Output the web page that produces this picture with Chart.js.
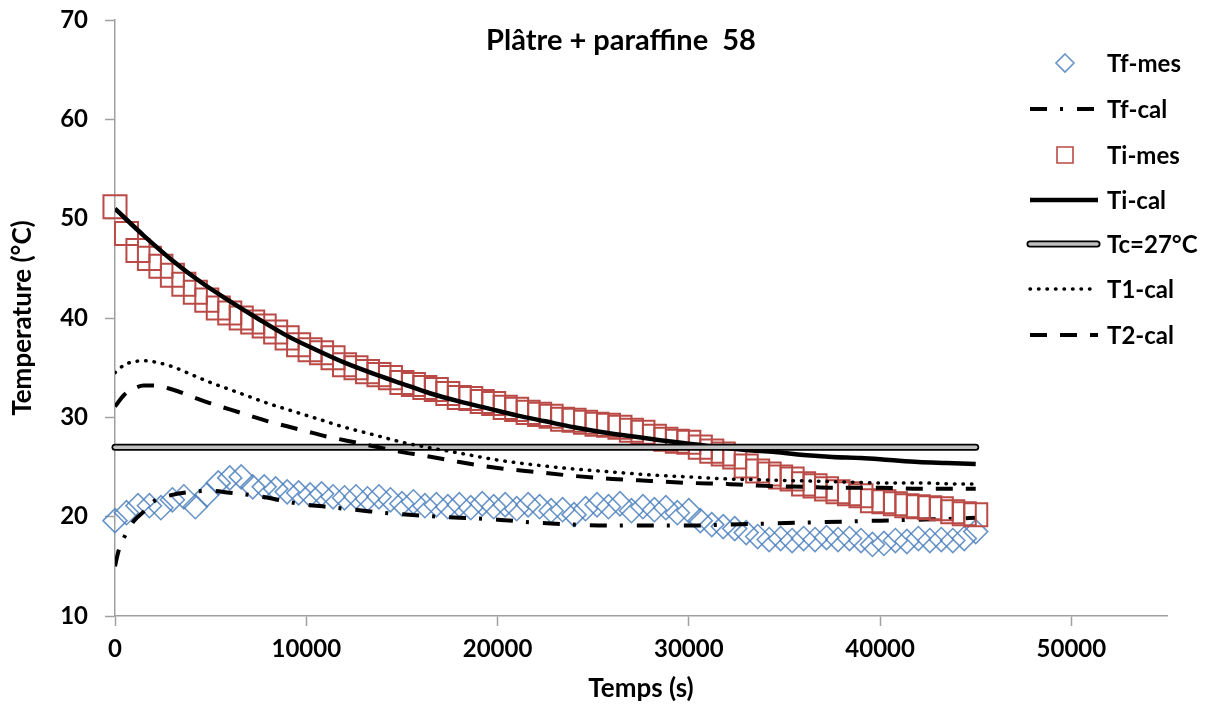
<!DOCTYPE html>
<html>
<head>
<meta charset="utf-8">
<script src="https://cdn.jsdelivr.net/npm/chart.js@4.4.1/dist/chart.umd.min.js"></script>
<style>
  html, body { margin: 0; padding: 0; background: #fff; }
  #wrap { width: 1211px; height: 708px; }
</style>
</head>
<body>
<div id="wrap"><canvas id="graphe" width="1211" height="708"></canvas></div>
<script>
// temps des mesures (s)
var tMes = [0, 600, 1200, 1800, 2400, 3000, 3600, 4200, 4800, 5400,
  6000, 6600, 7200, 7800, 8400, 9000, 9600, 10200, 10800, 11400,
  12000, 12600, 13200, 13800, 14400, 15000, 15600, 16200, 16800, 17400,
  18000, 18600, 19200, 19800, 20400, 21000, 21600, 22200, 22800, 23400,
  24000, 24600, 25200, 25800, 26400, 27000, 27600, 28200, 28800, 29400,
  30000, 30600, 31200, 31800, 32400, 33000, 33600, 34200, 34800, 35400,
  36000, 36600, 37200, 37800, 38400, 39000, 39600, 40200, 40800, 41400,
  42000, 42600, 43200, 43800, 44400, 45000];
var tfMes = [19.6, 20.4, 21.1, 21.1, 20.9, 21.7, 22.0, 21.0, 22.2, 23.4,
  23.9, 24.0, 23.0, 23.0, 22.8, 22.5, 22.4, 22.2, 22.3, 22.0,
  21.9, 22.0, 21.8, 22.0, 21.7, 21.3, 21.5, 21.1, 21.2, 21.0,
  21.2, 20.9, 21.3, 21.0, 21.2, 20.8, 21.2, 21.0, 20.6, 20.7,
  20.2, 20.8, 21.2, 21.0, 21.3, 20.6, 21.0, 20.7, 20.9, 20.4,
  20.6, 19.6, 19.2, 19.0, 18.8, 18.4, 18.0, 17.7, 17.8, 17.6,
  17.8, 17.7, 17.9, 17.7, 17.8, 17.6, 17.2, 17.3, 17.6, 17.5,
  17.8, 17.6, 17.7, 17.6, 17.8, 18.5];
var tiMes = [51.2, 48.5, 46.8, 46.0, 45.2, 44.3, 43.4, 42.6, 41.8, 41.0,
  40.5, 40.0, 39.6, 39.2, 38.6, 38.0, 37.3, 36.8, 36.5, 36.0,
  35.3, 35.0, 34.6, 34.3, 34.0, 33.5, 33.3, 33.0, 32.8, 32.4,
  32.0, 31.9, 31.6, 31.4, 31.0, 30.8, 30.5, 30.3, 30.1, 29.8,
  29.7, 29.5, 29.3, 29.2, 29.0, 28.7, 28.5, 28.1, 27.8, 27.6,
  27.5, 27.0, 26.6, 26.3, 26.0, 25.1, 24.6, 24.3, 24.0, 23.8,
  23.3, 23.1, 22.8, 22.5, 22.3, 22.1, 21.6, 21.5, 21.3, 21.1,
  21.0, 20.9, 20.8, 20.5, 20.3, 20.2];

// courbes calculees
var tTfCal = [0, 150, 300, 500, 750, 1000, 1500, 2000, 3000, 4000, 5000, 6000,
  7000, 8000, 9000, 10000, 11000, 12000, 13000, 14000, 16000, 18000, 20000,
  22000, 24000, 26000, 28000, 30000, 32000, 34000, 36000, 38000, 40000, 42000, 44000, 45000];
var tfCal = [15.0, 16.3, 17.2, 18.0, 18.9, 19.6, 20.5, 21.5, 22.2, 22.5, 22.6, 22.4,
  22.2, 21.9, 21.5, 21.2, 21.0, 20.8, 20.6, 20.4, 20.1, 19.9, 19.7,
  19.4, 19.2, 19.1, 19.1, 19.1, 19.2, 19.3, 19.4, 19.5, 19.6, 19.7, 19.8, 19.9];

var tTiCal = [0, 1500, 3000, 4500, 6000, 7500, 9000, 10500, 12000, 13500, 15000,
  16500, 18000, 19500, 21000, 22500, 24000, 25500, 27000, 28500, 30000,
  31500, 33000, 34500, 36000, 37500, 39000, 40500, 42000, 43500, 45000];
var tiCal = [51.0, 48.3, 45.8, 43.6, 41.7, 39.9, 38.2, 36.8, 35.5, 34.4, 33.4,
  32.4, 31.6, 30.9, 30.2, 29.6, 29.0, 28.5, 28.1, 27.7, 27.35,
  27.0, 26.7, 26.5, 26.2, 26.0, 25.9, 25.7, 25.5, 25.4, 25.3];

var tTc = [0, 45000];
var tc = [27, 27];

var tT12 = [0, 500, 1000, 1500, 2000, 3000, 4000, 5000, 6000, 7000, 8000, 9000,
  10000, 11000, 12000, 13000, 14000, 15000, 16000, 18000, 20000, 22000, 24000,
  26000, 28000, 30000, 32000, 34000, 36000, 38000, 40000, 42000, 44000, 45000];
var t1Cal = [34.5, 35.3, 35.6, 35.7, 35.6, 35.1, 34.3, 33.5, 32.8, 32.1, 31.4, 30.8,
  30.2, 29.6, 29.0, 28.5, 28.0, 27.5, 27.1, 26.4, 25.7, 25.2, 24.8,
  24.5, 24.2, 24.0, 23.8, 23.7, 23.6, 23.5, 23.4, 23.4, 23.3, 23.3];
var t2Cal = [31.1, 32.3, 32.9, 33.2, 33.2, 32.8, 32.1, 31.4, 30.8, 30.2, 29.6, 29.1,
  28.6, 28.1, 27.7, 27.3, 26.9, 26.5, 26.2, 25.5, 24.9, 24.5, 24.1,
  23.8, 23.6, 23.4, 23.3, 23.1, 23.0, 22.9, 22.9, 22.8, 22.8, 22.8];

var xTicks = [0, 10000, 20000, 30000, 40000, 50000];
var yTicks = [10, 20, 30, 40, 50, 60, 70];
var titre = 'Plâtre + paraffine  58';

function pts(xs, ys) {
  return xs.map(function (x, i) { return { x: x, y: ys[i] }; });
}

var police = 'Lato, "Open Sans", sans-serif';
Chart.defaults.font.family = police;
Chart.defaults.color = '#000';

var bleu = 'rgba(79,129,189,0.85)';
var rouge = '#b94a46';

var jeux = [
  { label: 'Tf-mes', data: pts(tMes, tfMes), showLine: false, pointStyle: 'rectRot',
    pointRadius: 12, pointBorderWidth: 1.6, pointBorderColor: bleu, pointBackgroundColor: 'rgba(0,0,0,0)',
    borderColor: bleu, clip: false, order: 7 },
  { label: 'Tf-cal', data: pts(tTfCal, tfCal), borderColor: '#000', borderWidth: 4,
    borderDash: [17, 13, 3, 14], pointRadius: 0, cubicInterpolationMode: 'monotone', order: 6 },
  { label: 'Ti-mes', data: pts(tMes, tiMes), showLine: false, pointStyle: 'rect',
    pointRadius: 16.3, pointBorderWidth: 2, pointBorderColor: rouge, pointBackgroundColor: 'rgba(0,0,0,0)',
    borderColor: rouge, clip: false, order: 5 },
  { label: 'Ti-cal', data: pts(tTiCal, tiCal), borderColor: '#000', borderWidth: 4.5,
    pointRadius: 0, cubicInterpolationMode: 'monotone', order: 4 },
  { label: 'Tc=27°C', data: pts(tTc, tc), borderColor: '#000', borderWidth: 7,
    borderCapStyle: 'round', pointRadius: 0, order: 3, clip: false },
  { label: 'Tc-int', data: pts(tTc, tc), borderColor: '#c0c0c0', borderWidth: 3.5,
    borderCapStyle: 'round', pointRadius: 0, order: 2.5, clip: false },
  { label: 'T1-cal', data: pts(tT12, t1Cal), borderColor: '#000', borderWidth: 3.5,
    borderDash: [0.5, 8], borderCapStyle: 'round', pointRadius: 0, cubicInterpolationMode: 'monotone', order: 2 },
  { label: 'T2-cal', data: pts(tT12, t2Cal), borderColor: '#000', borderWidth: 4,
    borderDash: [17, 13], pointRadius: 0, cubicInterpolationMode: 'monotone', order: 1 }
];

// legende dessinee a la main, a droite dans la zone du graphe
var lignesLegende = [
  { texte: 'Tf-mes', jeu: 0, y: 63 },
  { texte: 'Tf-cal', jeu: 1, y: 109 },
  { texte: 'Ti-mes', jeu: 2, y: 155 },
  { texte: 'Ti-cal', jeu: 3, y: 200 },
  { texte: 'Tc=27°C', jeu: 4, y: 244 },
  { texte: 'T1-cal', jeu: 6, y: 289 },
  { texte: 'T2-cal', jeu: 7, y: 335 }
];

var decor = {
  id: 'decor',
  afterDraw: function (chart) {
    var c = chart.ctx;
    c.save();
    c.fillStyle = '#000';
    c.font = 'bold 29px ' + police;
    c.textAlign = 'center';
    c.textBaseline = 'middle';
    c.fillText(titre, 621, 41);

    c.font = 'bold 24px ' + police;
    c.textAlign = 'left';
    lignesLegende.forEach(function (l) {
      var ds = chart.data.datasets[l.jeu];
      if (ds.showLine === false) {
        c.beginPath();
        c.lineWidth = 1.6;
        c.strokeStyle = ds.pointBorderColor;
        if (ds.pointStyle === 'rect') {
          c.rect(1057, l.y - 8, 16, 16);
        } else {
          c.moveTo(1065, l.y - 9); c.lineTo(1074, l.y); c.lineTo(1065, l.y + 9); c.lineTo(1056, l.y); c.closePath();
        }
        c.stroke();
      } else if (l.jeu === 4) {
        c.lineCap = 'round';
        c.setLineDash([]);
        c.beginPath(); c.lineWidth = 7; c.strokeStyle = '#000';
        c.moveTo(1030, l.y); c.lineTo(1097, l.y); c.stroke();
        c.beginPath(); c.lineWidth = 3.5; c.strokeStyle = '#c0c0c0';
        c.moveTo(1030, l.y); c.lineTo(1097, l.y); c.stroke();
      } else {
        c.beginPath();
        c.lineWidth = ds.borderWidth;
        c.strokeStyle = ds.borderColor;
        c.lineCap = ds.borderCapStyle || 'butt';
        c.setLineDash(ds.borderDash || []);
        c.moveTo(1030, l.y); c.lineTo(1098, l.y); c.stroke();
        c.setLineDash([]);
      }
      c.fillStyle = '#000';
      c.fillText(l.texte, 1107, l.y + 1);
    });
    c.restore();
  }
};

function brut(v) { return String(v); }

new Chart(document.getElementById('graphe').getContext('2d'), {
  type: 'line',
  data: { datasets: jeux },
  plugins: [decor],
  options: {
    responsive: false,
    animation: false,
    layout: { padding: { top: 20, right: 44, left: 0, bottom: 0 } },
    plugins: { legend: { display: false }, tooltip: { enabled: false }, title: { display: false } },
    scales: {
      x: {
        type: 'linear', min: 0, max: 55000,
        afterBuildTicks: function (s) { s.ticks = xTicks.map(function (v) { return { value: v }; }); },
        afterFit: function (s) { s.height = 92; s.paddingLeft = 0; s.paddingRight = 0; },
        ticks: { font: { size: 24, weight: 'bold' }, padding: 9, maxRotation: 0, callback: brut },
        grid: { drawOnChartArea: false, drawTicks: true, tickLength: 10, tickColor: '#a0a0a0', tickWidth: 1.5 },
        border: { display: true, color: '#a0a0a0', width: 1.5 },
        title: { display: true, text: 'Temps (s)', font: { size: 26, weight: 'bold' }, padding: { bottom: 4 } }
      },
      y: {
        type: 'linear', min: 10, max: 70,
        afterBuildTicks: function (s) { s.ticks = yTicks.map(function (v) { return { value: v }; }); },
        afterFit: function (s) { s.width = 115; s.paddingTop = 0; s.paddingBottom = 0; },
        ticks: { font: { size: 24, weight: 'bold' }, padding: 17, callback: brut },
        grid: { drawOnChartArea: false, drawTicks: true, tickLength: 10, tickColor: '#a0a0a0', tickWidth: 1.5 },
        border: { display: true, color: '#a0a0a0', width: 1.5 },
        title: { display: true, text: 'Temperature (°C)', font: { size: 26, weight: 'bold' }, padding: { top: 7 } }
      }
    }
  }
});
</script>
</body>
</html>
